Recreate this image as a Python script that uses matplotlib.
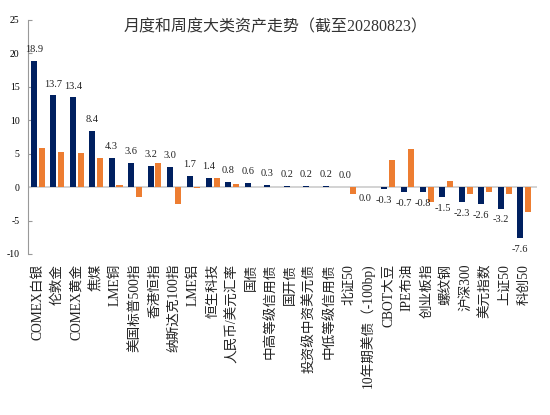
import numpy as np
import matplotlib
matplotlib.use('Agg')
import matplotlib.pyplot as plt

plt.rcParams['font.family'] = ['Liberation Serif', 'Noto Sans CJK SC']
plt.rcParams['axes.unicode_minus'] = False

# categories and values (monthly = navy, weekly = orange)
categories = ['COMEX白银', '伦敦金', 'COMEX黄金', '焦煤', 'LME铜', '美国标普500指',
              '香港恒指', '纳斯达克100指', 'LME铝', '恒生科技', '人民币/美元汇率', '国债',
              '中高等级信用债', '国开债', '投资级中资美元债', '中低等级信用债', '北证50',
              '10年期美债（-100bp)', 'CBOT大豆', 'IPE布油', '创业板指', '螺纹钢',
              '沪深300', '美元指数', '上证50', '科创50']
monthly = [18.9, 13.7, 13.4, 8.4, 4.3, 3.6, 3.2, 3.0, 1.7, 1.4, 0.8, 0.6,
           0.3, 0.2, 0.2, 0.2, 0.02, -0.02, -0.3, -0.7, -0.8, -1.5,
           -2.3, -2.6, -3.2, -7.6]
weekly = [5.9, 5.2, 5.1, 4.3, 0.3, -1.5, 3.6, -2.5, -0.2, 1.3, 0.4, 0.0,
          0.0, 0.0, 0.0, 0.0, -1.1, 0.0, 4.0, 5.7, -2.2, 0.9,
          -1.0, -0.75, -1.1, -3.7]
yticks = [-10, -5, 0, 5, 10, 15, 20, 25]

navy = '#002060'
orange = '#ED7D31'

fig = plt.figure(figsize=(5.5, 4.15), dpi=100)
ax = fig.add_axes([0.051, 0.388, 0.925, 0.564])

x = np.arange(len(categories))
w = 0.31
ax.bar(x - 0.2, monthly, width=w, color=navy, zorder=3)
ax.bar(x + 0.2, weekly, width=w, color=orange, zorder=3)

# data labels for the monthly series
for xi, v in zip(x, monthly):
    txt = f'{abs(v):.1f}' if abs(v) < 0.05 else f'{v:.1f}'
    if v >= 0:
        ax.annotate(txt, (xi - 0.2, v), xytext=(0, 5), textcoords='offset points',
                    ha='center', va='bottom', fontsize=7.5, color='#222222')
    else:
        ax.annotate(txt, (xi - 0.2, v), xytext=(0, -5), textcoords='offset points',
                    ha='center', va='top', fontsize=7.5, color='#222222')

ax.axhline(0, color='#d0d0d0', linewidth=1.3, zorder=2)
ax.set_ylim(-10, 25)
ax.set_xlim(-0.5, 25.65)
ax.set_yticks(yticks)
ax.set_yticklabels([str(t) for t in yticks], fontsize=7)
ax.tick_params(axis='y', direction='in', length=3, color='#999999', pad=6)
ax.set_xticks(x)
ax.set_xticklabels(categories, rotation=90, fontsize=9.8, color='#222222')
ax.tick_params(axis='x', length=0, pad=7)
for s in ['top', 'right', 'bottom']:
    ax.spines[s].set_visible(False)
ax.spines['left'].set_color('#999999')

fig.text(0.5, 0.933, '月度和周度大类资产走势（截至20280823）', ha='center', va='center',
         fontsize=11.5, color='#333333')

fig.savefig('out.png', dpi=100)
